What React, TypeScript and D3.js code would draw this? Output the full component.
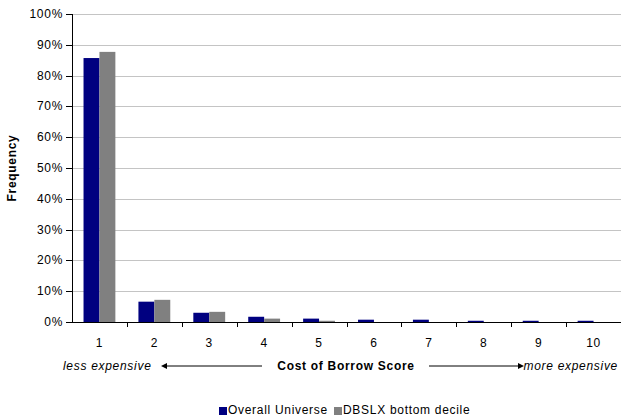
import React from "react";
import * as d3 from "d3";

const categories = ["1", "2", "3", "4", "5", "6", "7", "8", "9", "10"];
const overallUniverse = [85.7, 6.6, 3.0, 1.7, 1.1, 0.75, 0.75, 0.4, 0.4, 0.4];
const dbslxBottomDecile = [87.7, 7.2, 3.3, 1.1, 0.4, 0, 0, 0, 0, 0];
const seriesNames = ["Overall Universe", "DBSLX bottom decile"];
const seriesColors = ["#000080", "#808080"];
const yTicks = [0, 10, 20, 30, 40, 50, 60, 70, 80, 90, 100];

const W = 621;
const H = 419;
const left = 72;
const right = 621;
const top = 14;
const bottom = 322;
const FONT = "Arial, 'Liberation Sans', sans-serif";
const FS = 12;
const LS = 0.7;

export default function App() {
  const x0 = d3.scaleBand<string>().domain(categories).range([left, right]).padding(0);
  const bw = x0.bandwidth();
  const x1 = d3
    .scaleBand<number>()
    .domain([0, 1])
    .range([bw * 0.21, bw * 0.79])
    .padding(0);
  const y = d3.scaleLinear().domain([0, 100]).range([bottom, top]);
  const series = [overallUniverse, dbslxBottomDecile];

  const midX = 346;
  const labelY = 370;

  return (
    <svg
      width={W}
      height={H}
      style={{ position: "absolute", left: 0, top: 0, background: "#fff" }}
      fontFamily={FONT}
      fontSize={FS}
      letterSpacing={LS}
    >
      <defs>
        <marker id="arrowHead" viewBox="0 0 10 10" refX="0" refY="5" markerWidth="6" markerHeight="6" orient="auto">
          <path d="M0,0 L10,5 L0,10 z" fill="#000" />
        </marker>
      </defs>
      {/* horizontal gridlines */}
      {yTicks.map((t) =>
        t === 0 ? null : (
          <line
            key={"g" + t}
            x1={left}
            x2={right}
            y1={Math.round(y(t)) + 0.5}
            y2={Math.round(y(t)) + 0.5}
            stroke="#c4c4c4"
            strokeWidth={1}
          />
        )
      )}
      {/* bars */}
      {categories.map((c, i) =>
        series.map((s, j) => {
          const v = s[i];
          if (v <= 0) return null;
          const yTop = y(v);
          return (
            <rect
              key={c + "-" + j}
              x={(x0(c) ?? 0) + (x1(j) ?? 0)}
              y={yTop}
              width={x1.bandwidth()}
              height={bottom - yTop}
              fill={seriesColors[j]}
            />
          );
        })
      )}
      {/* y axis */}
      <line x1={left + 0.5} x2={left + 0.5} y1={top} y2={bottom} stroke="#000" />
      {yTicks.map((t) => (
        <g key={"yt" + t}>
          <line
            x1={left - 6}
            x2={left}
            y1={Math.round(y(t)) + 0.5}
            y2={Math.round(y(t)) + 0.5}
            stroke="#000"
          />
          <text x={left - 9} y={y(t) + 4} textAnchor="end" fill="#000">
            {t}%
          </text>
        </g>
      ))}
      {/* x axis */}
      <line x1={left} x2={right} y1={bottom + 0.5} y2={bottom + 0.5} stroke="#000" />
      {categories.map((c, i) => (
        <g key={"xt" + c}>
          {i > 0 && (
            <line
              x1={Math.round(x0(c) ?? 0) + 0.5}
              x2={Math.round(x0(c) ?? 0) + 0.5}
              y1={bottom}
              y2={bottom + 5}
              stroke="#000"
            />
          )}
          <text x={(x0(c) ?? 0) + bw / 2} y={bottom + 25} textAnchor="middle" fill="#000">
            {c}
          </text>
        </g>
      ))}
      {/* y axis title */}
      <text
        transform={`translate(16, ${(top + bottom) / 2}) rotate(-90)`}
        textAnchor="middle"
        fontWeight="bold"
        fill="#000"
      >
        Frequency
      </text>
      {/* x axis title with direction arrows */}
      <text x={63} y={labelY} fontStyle="italic" fill="#000">
        less expensive
      </text>
      <line x1={262} x2={167} y1={labelY - 4} y2={labelY - 4} stroke="#000" markerEnd="url(#arrowHead)" />
      <text x={midX} y={labelY} textAnchor="middle" fontWeight="bold" fill="#000">
        Cost of Borrow Score
      </text>
      <line x1={429} x2={518} y1={labelY - 4} y2={labelY - 4} stroke="#000" markerEnd="url(#arrowHead)" />
      <text x={618} y={labelY} textAnchor="end" fontStyle="italic" fill="#000">
        more expensive
      </text>
      {/* legend */}
      <rect x={219} y={407} width={8} height={8} fill={seriesColors[0]} />
      <text x={228} y={414} fill="#000">
        {seriesNames[0]}
      </text>
      <rect x={334} y={407} width={8} height={8} fill={seriesColors[1]} />
      <text x={343} y={414} fill="#000">
        {seriesNames[1]}
      </text>
    </svg>
  );
}
